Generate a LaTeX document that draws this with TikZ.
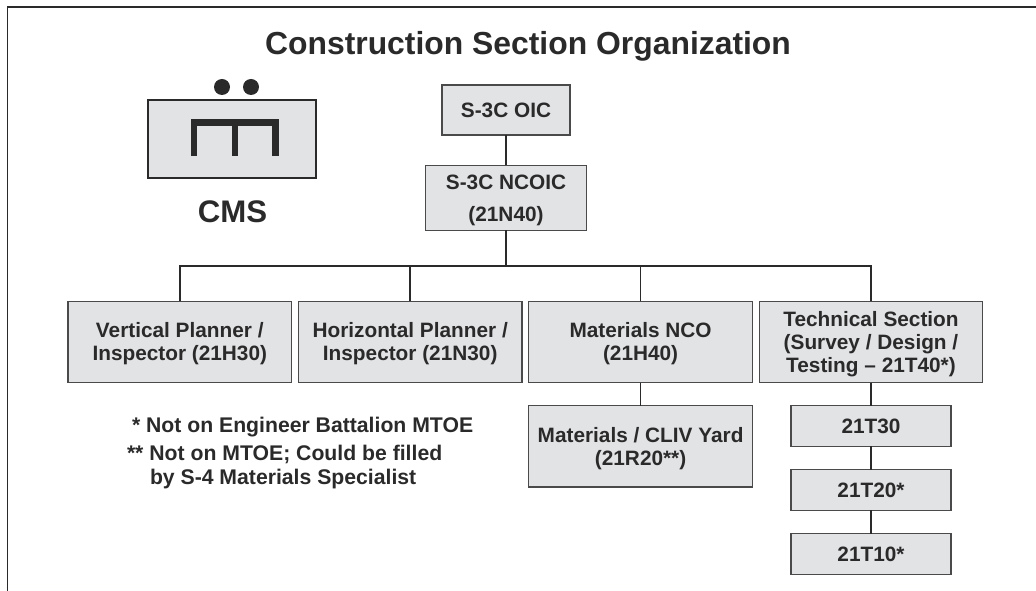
\documentclass[tikz,border=0pt]{standalone}
\usepackage{fontspec}
\setmainfont{Liberation Sans}
\usetikzlibrary{positioning}
\definecolor{boxgray}{HTML}{E2E3E5}
\definecolor{inkgray}{HTML}{2B2A2B}
\tikzstyle{unit} = [draw=inkgray!85,line width=0.9pt,fill=boxgray,rectangle,inner sep=0,outer sep=0,align=center,text=inkgray,font=\fontsize{15.6}{17.25}\selectfont\bfseries]
\tikzstyle{note} = [inner sep=0,outer sep=0,anchor=west,text=inkgray,font=\fontsize{15.9}{17}\selectfont\bfseries]
\tikzstyle{link} = [-,draw=inkgray,line width=1.2pt]
\def \wid {167.8pt}
\def \gap {5pt}
\def \dn {\rule{0pt}{14.4pt}}
\begin{document}
\begin{tikzpicture}[x=0.75pt,y=-0.75pt]
      \useasboundingbox (0,0) rectangle (1036,591);
      % page frame, open at the bottom and on the right
      \coordinate (fl) at (7.5,591);
      \coordinate (fa) at (7.5,7);
      \coordinate (fb) at (1036,7);
      \draw[draw=inkgray,line width=1pt] (fl) -- (fa) -- (fb);
      \node[text=inkgray,font=\fontsize{23.9}{28}\selectfont\bfseries] (title) at (528,46) {Construction Section Organization};
      % unit symbol
      \node[unit,line width=1.6pt,draw=inkgray,minimum width=126pt,minimum height=58.5pt] (cms) at (232,139) {};
      \fill[inkgray] (222,87) circle (6pt) (251,87) circle (6pt);
      \draw[draw=inkgray,line width=4.9pt] (194,155.7) -- (194,122.5) -- (275.5,122.5) -- (275.5,155.7) (235,122.5) -- (235,155.7);
      \node[text=inkgray,font=\fontsize{23.4}{26}\selectfont\bfseries] (cmslabel) at (232.5,212) {CMS};
      % top of the chart
      \node[unit,minimum width=96pt,minimum height=37.5pt] (oic) at (506,110) {S-3C OIC};
      \node[unit,minimum width=120.4pt,minimum height=48.75pt] (ncoic) at (506,198) {\dn S-3C NCOIC\\[6.75pt](21N40)};
      \draw[link] (oic) -- (ncoic);
      % first row
      \node[unit,minimum width=\wid,minimum height=61pt] (vert) at (179.8,342) {\dn Vertical Planner /\\Inspector (21H30)};
      \node[unit,minimum width=\wid,minimum height=61pt,right=\gap of vert] (horz) {\dn Horizontal Planner /\\Inspector (21N30)};
      \node[unit,minimum width=\wid,minimum height=61pt,right=\gap of horz] (mat) {\dn Materials NCO\\(21H40)};
      \node[unit,minimum width=\wid,minimum height=61pt,right=\gap of mat] (tech) {\dn Technical Section\\(Survey / Design /\\Testing -- 21T40*)};
      \coordinate (bus) at (506,266);
      \draw[link] (ncoic) -- (bus);
      \draw[link] (vert.north) |- (bus) -| (tech.north);
      \draw[link] (horz.north) -- (horz.north |- bus);
      \draw[link] (mat.north) -- (mat.north |- bus);
      % below the first row
      \node[unit,minimum width=\wid,minimum height=61pt,below=17.25pt of mat] (cliv) {\dn Materials / CLIV Yard\\(21R20**)};
      \node[unit,minimum width=120pt,minimum height=30.5pt,below=17.25pt of tech] (t30) {21T30};
      \node[unit,minimum width=120pt,minimum height=30.5pt,below=17.5pt of t30] (t20) {21T20*};
      \node[unit,minimum width=120pt,minimum height=30.5pt,below=17.5pt of t20] (t10) {21T10*};
      \draw[link] (mat) -- (cliv);
      \draw[link] (tech) -- (t30);
      \draw[link] (t30) -- (t20);
      \draw[link] (t20) -- (t10);
      % notes
      \node[note] (n1) at (132,427) {* Not on Engineer Battalion MTOE};
      \node[note] (n2) at (127,454) {** Not on MTOE; Could be filled};
      \node[note] (n3) at (150,479) {by S-4 Materials Specialist};
\end{tikzpicture}
\end{document}
